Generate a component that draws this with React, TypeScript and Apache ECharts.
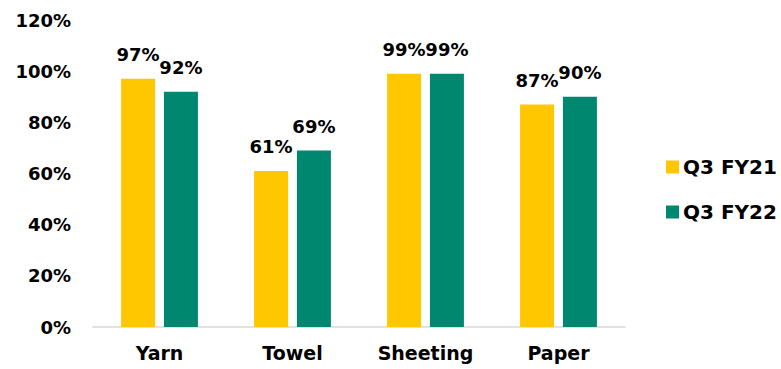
import React, { useEffect, useRef } from "react";
import * as echarts from "echarts";

const categories = ["Yarn", "Towel", "Sheeting", "Paper"];
const fy21 = [97, 61, 99, 87];
const fy22 = [92, 69, 99, 90];
const seriesNames = ["Q3 FY21", "Q3 FY22"];
const yTicks = [0, 20, 40, 60, 80, 100, 120];

const FONT = "DejaVu Sans";

export default function App() {
  const ref = useRef<HTMLDivElement>(null);
  useEffect(() => {
    if (!ref.current) return;
    const chart = echarts.init(ref.current, null, { renderer: "svg" });
    const label = {
      show: true,
      position: "top",
      distance: 15,
      formatter: (p: any) => p.value + "%",
      color: "#000",
      fontFamily: FONT,
      fontWeight: "bold",
      fontSize: 18,
    };
    chart.setOption({
      animation: false,
      grid: { left: 93, right: 156, top: 20, bottom: 42 },
      legend: {
        orient: "vertical",
        left: 666,
        top: 157,
        padding: 0,
        itemWidth: 13,
        itemHeight: 13,
        itemGap: 25,
        icon: "rect",
        textStyle: { color: "#000", fontFamily: FONT, fontWeight: "bold", fontSize: 20, padding: [0, 0, 0, -1] },
        data: seriesNames,
      },
      xAxis: {
        type: "category",
        data: categories,
        axisLine: { lineStyle: { color: "#D9D9D9", width: 1.5 } },
        axisTick: { show: false },
        axisLabel: { color: "#000", fontFamily: FONT, fontWeight: "bold", fontSize: 19, margin: 16 },
      },
      yAxis: {
        type: "value",
        min: yTicks[0],
        max: yTicks[yTicks.length - 1],
        interval: 20,
        splitLine: { show: false },
        axisLine: { show: false },
        axisTick: { show: false },
        axisLabel: {
          color: "#000",
          fontFamily: FONT,
          fontWeight: "bold",
          fontSize: 18,
          margin: 22,
          formatter: (v: number) => v + "%",
        },
      },
      series: [
        { name: seriesNames[0], type: "bar", data: fy21, barWidth: 34, barGap: "26%", itemStyle: { color: "#FFC700" }, label },
        { name: seriesNames[1], type: "bar", data: fy22, barWidth: 34, barGap: "26%", itemStyle: { color: "#00876F" }, label },
      ],
    });
    return () => chart.dispose();
  }, []);
  return <div ref={ref} style={{ width: 781, height: 369, position: "absolute", left: 0, top: 0 }} />;
}
